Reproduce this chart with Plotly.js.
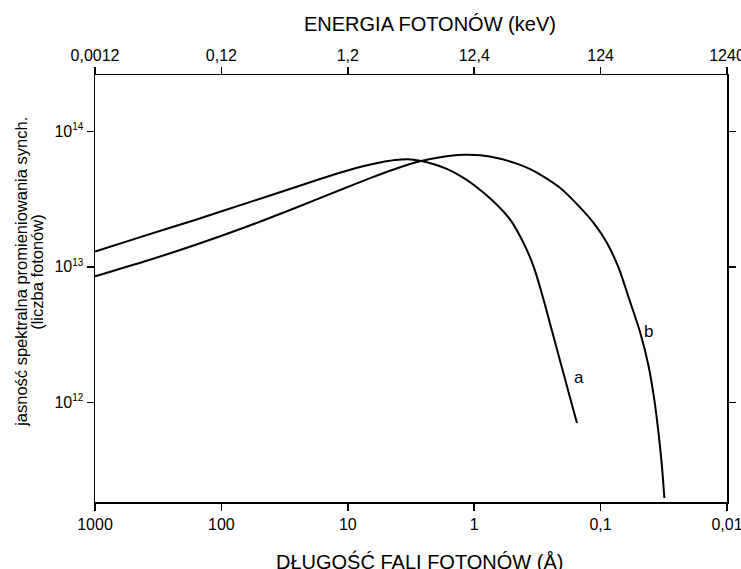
<!DOCTYPE html>
<html>
<head>
<meta charset="utf-8">
<script src="https://cdn.plot.ly/plotly-3.0.1.min.js"></script>
<style>html,body{margin:0;padding:0;background:#fff;}#chart{width:741px;height:569px;}</style>
</head>
<body>
<div id="chart"></div>
<script>
// Curve a: wavelength (Å) and spectral brightness (photon count)
const lambdaA = [1000, 402, 161.6, 64.9, 26.1, 16.56, 10.5, 7.29, 5.546, 4.221, 3.331, 2.676, 2.111, 1.644, 1.290, 1.012, 0.703, 0.519, 0.4072, 0.3393, 0.2825, 0.2426, 0.2021, 0.1738, 0.1538];
const fluxA   = [1.30e13, 1.70e13, 2.22e13, 2.93e13, 3.87e13, 4.45e13, 5.08e13, 5.58e13, 5.90e13, 6.14e13, 6.22e13, 6.06e13, 5.75e13, 5.28e13, 4.69e13, 4.04e13, 3.04e13, 2.23e13, 1.50e13, 1.01e13, 5.73e12, 3.38e12, 1.80e12, 1.07e12, 7.05e11];
// Curve b
const lambdaB = [1000, 402, 161.6, 64.9, 26.1, 10.5, 6.655, 4.221, 2.676, 1.858, 1.215, 0.896, 0.661, 0.4736, 0.360, 0.3003, 0.2085, 0.1449, 0.1136, 0.0890, 0.0721, 0.0601, 0.0485, 0.0417, 0.0376, 0.0348, 0.0327, 0.0313];
const fluxB   = [8.51e12, 1.10e13, 1.45e13, 1.96e13, 2.72e13, 3.82e13, 4.52e13, 5.28e13, 6.01e13, 6.44e13, 6.71e13, 6.66e13, 6.36e13, 5.83e13, 5.26e13, 4.79e13, 3.82e13, 2.74e13, 2.11e13, 1.50e13, 9.87e12, 5.98e12, 3.25e12, 1.85e12, 1.05e12, 5.94e11, 3.37e11, 1.97e11];
// Tick labels
const wavelengthTicks = [1000, 100, 10, 1, 0.1, 0.01];
const wavelengthLabels = ['1000', '100', '10', '1', '0,1', '0,01'];
const energyLabels = ['0,0012', '0,12', '1,2', '12,4', '124', '1240'];
const yTicks = [1e12, 1e13, 1e14];
const yExponents = ['12', '13', '14'];
const curveLabels = ['a', 'b'];

const F = 'Liberation Sans, Arial, sans-serif';
const lineStyle = {color: '#000', width: 2, shape: 'spline', smoothing: 0.8};

const traces = [
  {x: lambdaA, y: fluxA, mode: 'lines', line: lineStyle, showlegend: false, hoverinfo: 'skip'},
  {x: lambdaB, y: fluxB, mode: 'lines', line: lineStyle, showlegend: false, hoverinfo: 'skip'},
  {x: lambdaB, y: fluxB, xaxis: 'x2', mode: 'lines', line: {width: 0, color: 'rgba(0,0,0,0)'}, showlegend: false, hoverinfo: 'skip'}
];

const yLabels = yExponents.map(e => '10<sup><span style="font-size:10px">' + e + '</span></sup>');

const layout = {
  width: 741, height: 569,
  margin: {l: 95, r: 14.3, t: 75.3, b: 66.7},
  paper_bgcolor: '#fff', plot_bgcolor: '#fff',
  font: {family: F, color: '#000', size: 16},
  xaxis: {
    type: 'log', range: [3, -2],
    tickvals: wavelengthTicks, ticktext: wavelengthLabels,
    ticks: 'outside', ticklen: 7, tickwidth: 1.5, tickcolor: '#000',
    showline: true, linecolor: '#000', linewidth: 1.5, mirror: true,
    showgrid: false, zeroline: false, ticklabeloverflow: 'allow',
    tickfont: {family: F, size: 16, color: '#000'}
  },
  xaxis2: {
    type: 'log', range: [3, -2], overlaying: 'x', side: 'top',
    tickvals: wavelengthTicks, ticktext: energyLabels,
    ticks: 'outside', ticklen: 7, tickwidth: 1.5, tickcolor: '#000',
    showline: false, showgrid: false, zeroline: false, ticklabeloverflow: 'allow',
    tickfont: {family: F, size: 16, color: '#000'}
  },
  yaxis: {
    type: 'log', range: [11.265, 14.416],
    tickvals: yTicks, ticktext: yLabels,
    ticks: 'outside', ticklen: 7, tickwidth: 1.5, tickcolor: '#000',
    showline: true, linecolor: '#000', linewidth: 1.5, mirror: 'ticks',
    showgrid: false, zeroline: false,
    tickfont: {family: F, size: 16, color: '#000'}
  },
  annotations: [
    {text: 'ENERGIA FOTONÓW (keV)', xref: 'paper', yref: 'paper', x: 0.530, y: 1, yshift: 51,
     showarrow: false, font: {family: F, size: 20, color: '#000'}, xanchor: 'center', yanchor: 'middle'},
    {text: 'DŁUGOŚĆ FALI FOTONÓW (Å)', xref: 'paper', yref: 'paper', x: 0.514, y: 0, yshift: -59,
     showarrow: false, font: {family: F, size: 20, color: '#000'}, xanchor: 'center', yanchor: 'middle'},
    {text: 'jasność spektralna promieniowania synch.', xref: 'paper', yref: 'paper',
     x: 0, xshift: -74, y: 0.539, textangle: -90, showarrow: false,
     font: {family: F, size: 16.5, color: '#000'}, xanchor: 'center', yanchor: 'middle'},
    {text: '(liczba fotonów)', xref: 'paper', yref: 'paper',
     x: 0, xshift: -58, y: 0.539, textangle: -90, showarrow: false,
     font: {family: F, size: 16.5, color: '#000'}, xanchor: 'center', yanchor: 'middle'},
    {text: curveLabels[0], x: -0.826, y: 12.182, xref: 'x', yref: 'y', showarrow: false, font: {family: F, size: 17, color: '#000'}},
    {text: curveLabels[1], x: -1.380, y: 12.524, xref: 'x', yref: 'y', showarrow: false, font: {family: F, size: 17, color: '#000'}}
  ]
};

Plotly.newPlot('chart', traces, layout, {staticPlot: true, displayModeBar: false});
</script>
</body>
</html>
